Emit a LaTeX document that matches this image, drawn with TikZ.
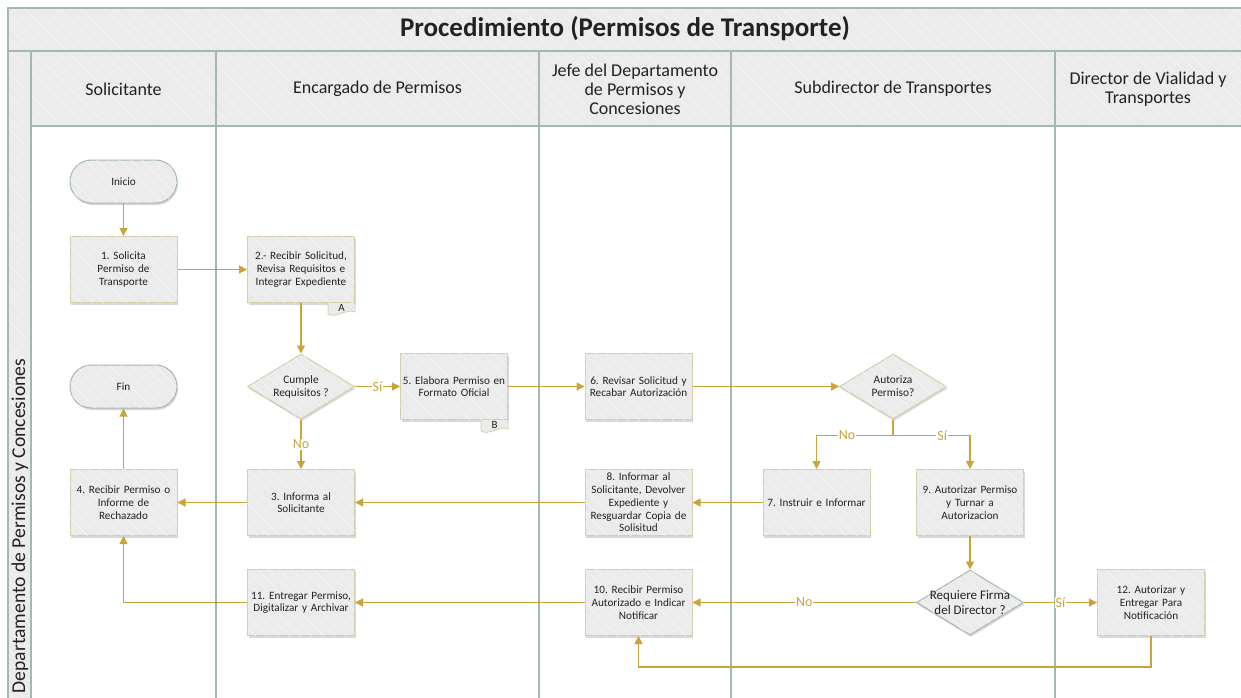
\documentclass[tikz,border=0pt]{standalone}
\usepackage{fontspec}
\setmainfont{Carlito}
\frenchspacing
\usetikzlibrary{shapes.geometric,shadows,patterns.meta,arrows.meta,calc}
\definecolor{arr}{HTML}{C9A43A}
\definecolor{frm}{HTML}{A4B8B3}
\definecolor{fillg}{HTML}{EBEBEB}
\definecolor{bdr}{HTML}{D6CDAA}
\definecolor{txt}{HTML}{222222}
\tikzset{
  hatch/.style={fill=fillg, postaction={pattern={Lines[angle=-45,distance=8pt,line width=0.5pt]}, pattern color=white!55!fillg}},
  shad/.style={drop shadow={opacity=0.3, shadow xshift=1pt, shadow yshift=-2pt}},
  box/.style={draw=bdr, line width=1pt, hatch, shad, minimum width=107pt, minimum height=66pt,
    text width=106pt, align=center, inner sep=0.5pt, text=txt, font=\fontsize{11.2}{12.7}\selectfont},
  term/.style={draw=frm, line width=1pt, hatch, shad, rounded corners=21.5pt, minimum width=107pt,
    minimum height=43pt, text=txt, font=\fontsize{11.2}{12.7}\selectfont},
  dia/.style={shape=diamond, draw=bdr, line width=1pt, hatch, shad, minimum width=107pt,
    minimum height=65pt, inner sep=0pt},
  diatext/.style={align=center, text=txt, font=\fontsize{11.4}{13}\selectfont},
  arw/.style={draw=arr, line width=1.2pt, -{Triangle[length=8pt,width=8pt]}},
  plain/.style={draw=arr, line width=1.2pt},
  lbl/.style={fill=white, text=arr, font=\fontsize{14}{14}\selectfont, inner sep=1pt},
  frame/.style={draw=frm, line width=1.5pt},
  hdr/.style={align=center, text=txt, font=\fontsize{18}{19}\selectfont},
  tagtext/.style={text=txt, font=\fontsize{11}{11}\selectfont, inner sep=0pt},
}
\newcommand\doctag[3]{%
  \filldraw[draw=bdr, fill=fillg, line width=0.8pt] ($(#1.south east)+(-27,0)$) -- ++(0,11)
    .. controls +(8,5) and +(-9,-4) .. ($(#1.south east)+(0,9)$) -- (#1.south east);
  \node[tagtext] (#3) at ($(#1.south east)+(-13.5,5)$) {#2};}
\begin{document}
\begin{tikzpicture}[x=1pt,y=-1pt]
\useasboundingbox[fill=white] (0,0) rectangle (1241,697);
% frame
\path[hatch] (8,8) rectangle (1245,51);
\path[hatch] (8,51) rectangle (31,700);
\path[hatch] (31,51) rectangle (1245,126);
\draw[frame] (1245,8) -- (8,8) -- (8,700);
\draw[frame] (8,51) -- (1245,51);
\draw[frame] (31,51) -- (31,700);
\draw[frame] (31,126) -- (1245,126);
\foreach \xx in {216,539,731,1055} \draw[frame] (\xx,51) -- (\xx,700);
\node[text=txt, font=\fontsize{27}{27}\selectfont\bfseries] (title) at (625,29) {Procedimiento (Permisos de Transporte)};
\node[rotate=90, text=txt, font=\fontsize{19.6}{19.6}\selectfont] (pool) at (20,526) {Departamento de Permisos y Concesiones};
\node[hdr] (h1) at (123.5,89) {Solicitante};
\node[hdr] (h2) at (377.5,89) {Encargado de Permisos};
\node[hdr] (h3) at (635,89) {Jefe del Departamento\\de Permisos y\\Concesiones};
\node[hdr] (h4) at (893,89) {Subdirector de Transportes};
\node[hdr] (h5) at (1148,89) {Director de Vialidad y\\Transportes};
% nodes
\node[term] (ini) at (123.5,181.5) {Inicio};
\node[box] (n1) at (123.5,269.5) {1. Solicita\\Permiso de\\Transporte};
\node[box] (n2) at (301,269.5) {2.- Recibir Solicitud,\\Revisa Requisitos e\\Integrar Expediente};
\node[term] (fin) at (123.5,386.5) {Fin};
\node[dia] (cum) at (301,386.5) {};
\node[diatext] (cumt) at (cum.center) {Cumple\\Requisitos ?};
\node[box] (n5) at (454,386.5) {5. Elabora Permiso en\\Formato Oficial};
\node[box] (n6) at (638.5,386.5) {6. Revisar Solicitud y\\Recabar Autorización};
\node[dia] (aut) at (893,386.5) {};
\node[diatext] (autt) at (aut.center) {Autoriza\\Permiso?};
\node[box] (n4) at (123.5,502.5) {4. Recibir Permiso o\\Informe de\\Rechazado};
\node[box] (n3) at (301,502.5) {3. Informa al\\Solicitante};
\node[box] (n8) at (638.5,502.5) {8. Informar al\\Solicitante, Devolver\\Expediente y\\Resguardar Copia de\\Solisitud};
\node[box] (n7) at (816.5,502.5) {7. Instruir e Informar};
\node[box] (n9) at (970,502.5) {9. Autorizar Permiso\\y Turnar a\\Autorizacion};
\node[box] (n11) at (301,602.5) {11. Entregar Permiso,\\Digitalizar y Archivar};
\node[box] (n10) at (638.5,602.5) {10. Recibir Permiso\\Autorizado e Indicar\\Notificar};
\node[dia, draw=frm] (req) at (970,602.5) {};
\node[diatext, font=\fontsize{13}{15}\selectfont] (reqt) at (req.center) {Requiere Firma\\del Director ?};
\node[box] (n12) at (1151,602.5) {12. Autorizar y\\Entregar Para\\Notificación};
\doctag{n2}{A}{tagA}
\doctag{n5}{B}{tagB}
% connectors
\draw[arw] (ini) -- (n1);
\draw[arw] (n1) -- (n2);
\draw[arw] (n2) -- (cum);
\draw[arw] (cum) -- node[lbl]{Sí} (n5);
\draw[arw] (cum) -- node[lbl]{No} (n3);
\draw[arw] (n5) -- (n6);
\draw[arw] (n6) -- (aut);
\coordinate (br) at ($(aut.south)+(0,16)$);
\draw[plain] (aut.south) -- (br);
\draw[arw] (br) -| node[lbl,pos=0.3]{No} (n7);
\draw[arw] (br) -| node[lbl,pos=0.32]{Sí} (n9);
\draw[arw] (n7) -- (n8);
\draw[arw] (n8) -- (n3);
\draw[arw] (n3) -- (n4);
\draw[arw] (n4) -- (fin);
\draw[arw] (n9) -- (req);
\draw[arw] (req) -- node[lbl]{No} (n10);
\draw[arw] (req) -- node[lbl]{Sí} (n12);
\coordinate (rt) at ($(n12.south)+(0,31)$);
\draw[arw] (n12.south) -- (rt) -| (n10.south);
\draw[arw] (n10) -- (n11);
\draw[arw] (n11.west) -| (n4.south);
\end{tikzpicture}
\end{document}
